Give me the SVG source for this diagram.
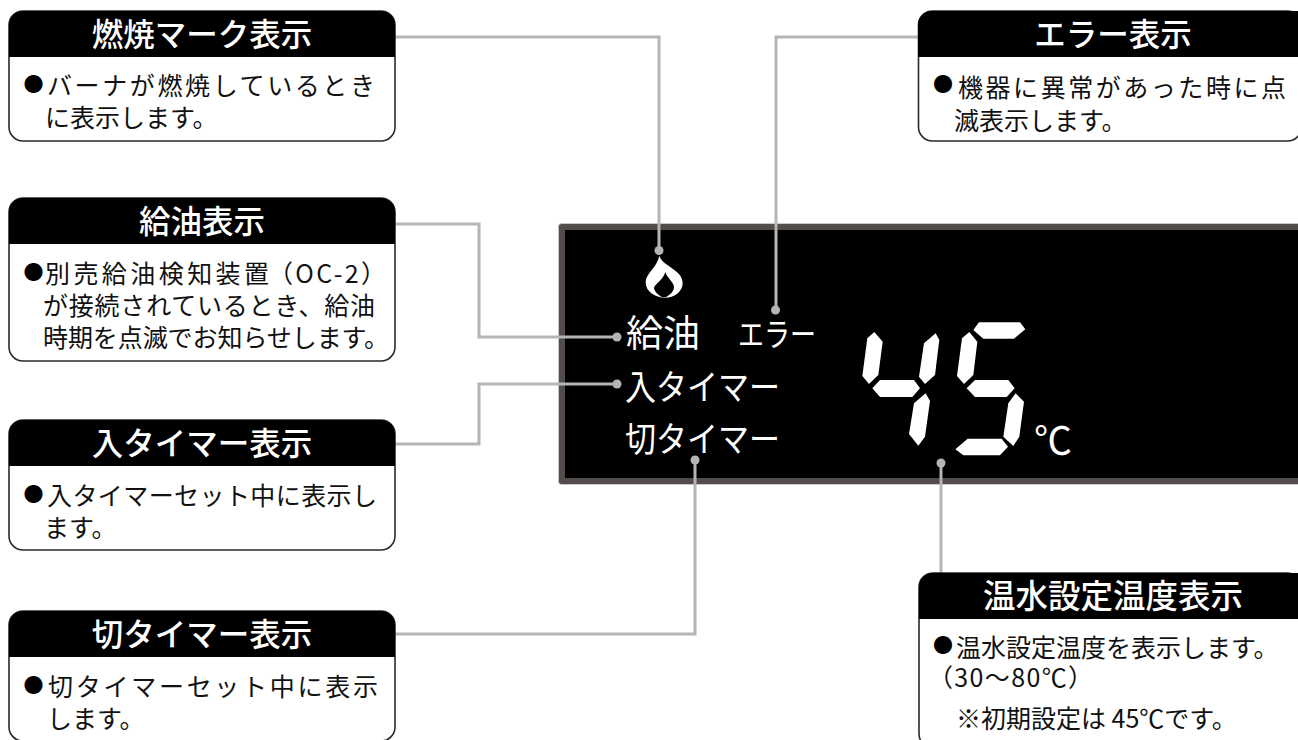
<svg xmlns="http://www.w3.org/2000/svg" width="1298" height="740" viewBox="0 0 1298 740">
<style>
text{font-family:"Noto Sans CJK JP","Noto Sans",sans-serif}
.box{fill:#fff;stroke:#2a2a2a;stroke-width:1.6}
.hd{fill:#000}
.ht{fill:#fff;font-size:31.5px;text-anchor:middle;font-weight:500}
.bt{fill:#111;font-size:25px}
.bu{fill:#000;font-size:20px;text-anchor:middle}
.pt{fill:#fff;font-weight:400}
.seg{fill:#fff}
.con{fill:none;stroke:#b5b5b5;stroke-width:3}
.dot{fill:#b5b5b5}
</style>
<rect width="1298" height="740" fill="#fff"/>
<g id="panel">
<rect x="558.5" y="223.5" width="745" height="261" rx="3" fill="#524c4a" stroke="#c8c8c8" stroke-width="1"/>
<rect x="565" y="230" width="740" height="248" fill="#000"/>
<g id="flame" transform="translate(550,210) scale(.3333)">
<path fill="#fff" d="M328 137C336 168 398 178 398 219C398 246 372 263 345 263C316 263 287 246 287 216C287 190 322 172 328 137Z"/>
<path fill="#000" d="M346 186C352 206 374 218 372 234C370 246 358 256 347 262L337 262C326 256 314 246 312 234C314 222 340 210 346 186Z"/>
</g>
<g id="digits" class="seg" transform="translate(840,300) scale(.3333)">
<polygon points="103,96 128,125 115,225 87,252 67,228 82,115"/>
<polygon points="120,240 222,240 240,265 217,291 120,291 97,265"/>
<polygon points="287,100 298,120 285,225 255,252 237,230 252,130"/>
<polygon points="257,280 270,303 255,410 235,437 207,402 222,310"/>
<polygon points="417,67 540,67 556,88 522,116 430,116 400,90"/>
<polygon points="388,96 412,125 400,225 372,252 351,228 366,115"/>
<polygon points="405,240 505,240 524,265 500,291 405,291 380,265"/>
<polygon points="527,280 552,305 538,410 520,438 490,410 505,310"/>
<polygon points="383,416 485,416 504,440 480,466 370,466 346,448"/>
</g>
<text class="pt" x="626" y="347" font-size="37">給油</text>
<text class="pt" x="738" y="346" font-size="32" textLength="78" lengthAdjust="spacingAndGlyphs">エラー</text>
<text class="pt" x="625" y="400" font-size="35" textLength="155" lengthAdjust="spacingAndGlyphs">入タイマー</text>
<text class="pt" x="625" y="452" font-size="35" textLength="155" lengthAdjust="spacingAndGlyphs">切タイマー</text>
<text class="pt" x="1034" y="454" font-size="38">℃</text>
</g>
<g id="connectors">
<path class="con" d="M395 37H659V250"/><circle class="dot" cx="659" cy="250.5" r="4.5"/>
<path class="con" d="M918 37H776V310"/><circle class="dot" cx="775.5" cy="310" r="4.5"/>
<path class="con" d="M395 224H479V337H617"/><circle class="dot" cx="617" cy="337" r="4.5"/>
<path class="con" d="M395 444H479V384H617"/><circle class="dot" cx="617" cy="384" r="4.5"/>
<path class="con" d="M395 634H695V460"/><circle class="dot" cx="695" cy="460" r="4.5"/>
<path class="con" d="M941 573V463"/><circle class="dot" cx="941" cy="463" r="4.5"/>
</g>
<g id="node-burn">
<rect class="box" x="9" y="11" width="386" height="130" rx="14"/>
<path class="hd" d="M9 57V25a14 14 0 0 1 14-14H381a14 14 0 0 1 14 14V57Z"/>
<text class="ht" x="202" y="46">燃焼マーク表示</text>
<text class="bu" x="33.5" y="92">●</text>
<text class="bt" x="47" y="95" textLength="328">バーナが燃焼しているとき</text>
<text class="bt" x="45" y="127">に表示します。</text>
</g>
<g id="node-oil">
<rect class="box" x="9" y="198" width="386" height="163" rx="14"/>
<path class="hd" d="M9 244V212a14 14 0 0 1 14-14H381a14 14 0 0 1 14 14V244Z"/>
<text class="ht" x="202" y="233">給油表示</text>
<text class="bu" x="33.5" y="279.5">●</text>
<text class="bt" y="283"><tspan x="45" textLength="224">別売給油検知装置</tspan><tspan x="268" textLength="118">（OC-2）</tspan></text>
<text class="bt" x="43" y="315" textLength="332">が接続されているとき、給油</text>
<text class="bt" x="43" y="347" textLength="346">時期を点滅でお知らせします。</text>
</g>
<g id="node-on">
<rect class="box" x="9" y="420" width="386" height="130" rx="14"/>
<path class="hd" d="M9 466V434a14 14 0 0 1 14-14H381a14 14 0 0 1 14 14V466Z"/>
<text class="ht" x="202" y="455">入タイマー表示</text>
<text class="bu" x="33.5" y="502">●</text>
<text class="bt" x="47" y="505" textLength="330">入タイマーセット中に表示し</text>
<text class="bt" x="44" y="537">ます。</text>
</g>
<g id="node-off">
<rect class="box" x="9" y="611" width="386" height="130" rx="14"/>
<path class="hd" d="M9 657V625a14 14 0 0 1 14-14H381a14 14 0 0 1 14 14V657Z"/>
<text class="ht" x="202" y="646">切タイマー表示</text>
<text class="bu" x="33.5" y="693">●</text>
<text class="bt" x="48" y="696" textLength="330">切タイマーセット中に表示</text>
<text class="bt" x="47" y="728">します。</text>
</g>
<g id="node-error">
<rect class="box" x="918.5" y="11" width="383" height="130" rx="14"/>
<path class="hd" d="M918 57V25a14 14 0 0 1 14-14H1301V57Z"/>
<text class="ht" x="1113" y="46">エラー表示</text>
<text class="bu" x="943" y="92">●</text>
<text class="bt" x="958" y="97" textLength="328">機器に異常があった時に点</text>
<text class="bt" x="954" y="130">滅表示します。</text>
</g>
<g id="node-temp">
<rect class="box" x="919" y="573" width="382" height="175" rx="14"/>
<path class="hd" d="M919 619V587a14 14 0 0 1 14-14H1301V619Z"/>
<text class="ht" x="1113" y="608" style="font-size:32.5px">温水設定温度表示</text>
<text class="bu" x="943" y="653">●</text>
<text class="bt" x="956" y="657">温水設定温度を表示します。</text>
<text class="bt" x="928" y="687" textLength="165">（30〜80℃）</text>
<text class="bt" x="956" y="728">※初期設定は 45℃です。</text>
</g>
</svg>
